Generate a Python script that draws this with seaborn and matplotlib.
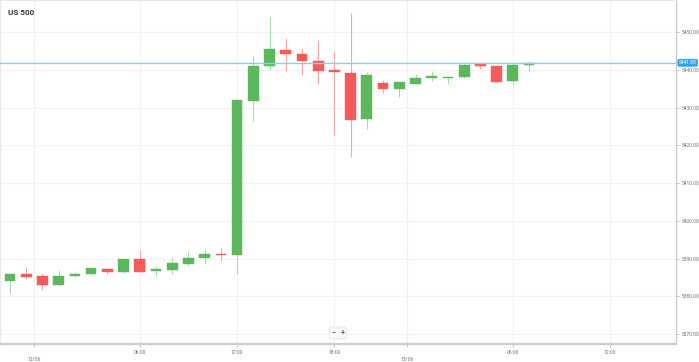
import matplotlib
matplotlib.use("Agg")
import matplotlib.pyplot as plt
import matplotlib.transforms as mtransforms
import seaborn as sns
import numpy as np

# hourly candles, US 500, 12/06 - 13/06
opens = [5384.04, 5385.81, 5385.28, 5382.90, 5385.36, 5385.81, 5387.30, 5386.34, 5389.87, 5386.77,
         5387.03, 5388.62, 5390.05, 5391.00, 5390.93, 5431.72, 5441.07, 5445.15, 5444.25, 5442.40,
         5439.85, 5439.14, 5426.95, 5436.41, 5434.90, 5436.30, 5437.90, 5437.85, 5438.08, 5441.26,
         5440.91, 5437.10, 5441.18]
highs = [5386.00, 5387.67, 5386.16, 5386.87, 5386.34, 5387.75, 5387.40, 5389.90, 5392.33, 5388.09,
         5390.21, 5392.07, 5392.60, 5392.78, 5432.25, 5443.91, 5453.89, 5448.41, 5445.68, 5447.88,
         5444.97, 5455.11, 5439.40, 5437.28, 5436.85, 5438.87, 5439.75, 5438.10, 5441.40, 5441.87,
         5441.00, 5441.40, 5442.40]
lows = [5380.78, 5384.49, 5381.66, 5382.70, 5385.18, 5385.70, 5385.97, 5386.20, 5386.40, 5385.44,
        5385.97, 5388.01, 5388.46, 5389.42, 5385.97, 5426.42, 5439.93, 5439.59, 5438.61, 5436.23,
        5422.72, 5416.97, 5424.38, 5433.92, 5432.86, 5436.20, 5437.10, 5436.23, 5437.90, 5440.28,
        5436.41, 5435.96, 5439.75]
closes = [5385.81, 5385.10, 5382.90, 5385.44, 5385.97, 5387.48, 5386.34, 5389.79, 5386.50, 5387.30,
          5388.81, 5390.13, 5391.11, 5390.85, 5431.91, 5441.07, 5445.42, 5444.25, 5442.24, 5439.67,
          5439.32, 5426.77, 5438.53, 5434.82, 5436.68, 5437.81, 5438.10, 5438.00, 5441.34, 5441.07,
          5436.83, 5441.26, 5441.83]

last_price = 5441.83

time_tick_pos = [8, 14, 20, 31, 37]
time_tick_labels = ["06:00", "12:00", "18:00", "06:00", "12:00"]
date_tick_pos = [1.5, 24.5]
date_tick_labels = ["12/06", "13/06"]
price_ticks = [5370, 5380, 5390, 5400, 5410, 5420, 5430, 5440, 5450]

green = "#5cb85c"
red = "#f55b5b"
green_wick = "#a9dba9"
red_wick = "#f8a5a5"
grid_col = "#f2f2f2"

sns.set_theme(style="white")
plt.rcParams["font.family"] = ["Roboto", "DejaVu Sans"]

fig = plt.figure(figsize=(6.99, 3.62), dpi=100)
ax = fig.add_axes([0.0, 0.0497, 0.9671, 0.9503])

x = np.arange(len(opens))
o = np.array(opens)
c = np.array(closes)
up = c >= o
body_col = np.where(up, green, red)
wick_col = np.where(up, green_wick, red_wick)

ax.vlines(x, lows, highs, colors=wick_col, linewidth=0.8, zorder=2)
heights = np.abs(c - o)
heights = np.maximum(heights, 0.35)
bottoms = np.minimum(o, c)
ax.bar(x, heights, bottom=bottoms, width=0.66, color=body_col,
       edgecolor=body_col, linewidth=0.3, zorder=3)

# last price line
ax.axhline(last_price, color="#8ccdf3", linewidth=1.0, zorder=4)
trans = mtransforms.blended_transform_factory(ax.transAxes, ax.transData)
ax.text(1.004, last_price, f"{last_price:.2f}", transform=trans, ha="left", va="center",
        fontsize=3.5, color="white", clip_on=False, zorder=6,
        bbox=dict(boxstyle="round,pad=0.3,rounding_size=0.4", fc="#3aa3ef", ec="none"))

ax.set_xlim(-0.617, 41.06)
ax.set_ylim(5367.35, 5458.48)

# y axis on the right
ax.yaxis.tick_right()
ax.set_yticks(price_ticks)
ax.set_yticklabels([f"{p:.2f}" for p in price_ticks])
ax.tick_params(axis="y", which="major", right=True, left=False, length=2.5, width=0.5,
               color="#aaaaaa", labelsize=3.5, labelcolor="#707070", pad=1.5)

# x axis: times as major, dates as minor (lower line)
ax.set_xticks(time_tick_pos)
ax.set_xticklabels(time_tick_labels)
ax.set_xticks(date_tick_pos, minor=True)
ax.set_xticklabels(date_tick_labels, minor=True)
ax.tick_params(axis="x", which="major", bottom=True, length=2.5, width=0.5, color="#aaaaaa",
               labelsize=3.6, labelcolor="#707070", pad=1.5)
ax.tick_params(axis="x", which="minor", bottom=True, length=2.5, width=0.5, color="#aaaaaa",
               labelsize=3.6, labelcolor="#707070", pad=6.5)

ax.grid(True, which="major", axis="both", color=grid_col, linewidth=0.8, zorder=0)
ax.grid(True, which="minor", axis="x", color="#ececec", linewidth=0.8, linestyle=(0, (3, 1)), zorder=0)
ax.set_axisbelow(True)

for side in ["top", "left"]:
    ax.spines[side].set_color("#e8e8e8")
    ax.spines[side].set_linewidth(0.8)
ax.spines["right"].set_color("#c8c8c8")
ax.spines["right"].set_linewidth(0.9)
ax.spines["bottom"].set_color("#cccccc")
ax.spines["bottom"].set_linewidth(1.6)

ax.text(0.012, 0.965, "US 500", transform=ax.transAxes, ha="left", va="center",
        fontsize=5.8, fontweight="bold", color="#333333")

# zoom controls
ax.text(0.5, 0.032, "\u2212   +", transform=ax.transAxes, ha="center", va="center",
        fontsize=5, fontweight="bold", color="#555555", zorder=7,
        bbox=dict(boxstyle="round,pad=0.3,rounding_size=0.3", fc="#f7f7f7", ec="#e0e0e0", lw=0.5))

fig.savefig("out.png", dpi=100)
